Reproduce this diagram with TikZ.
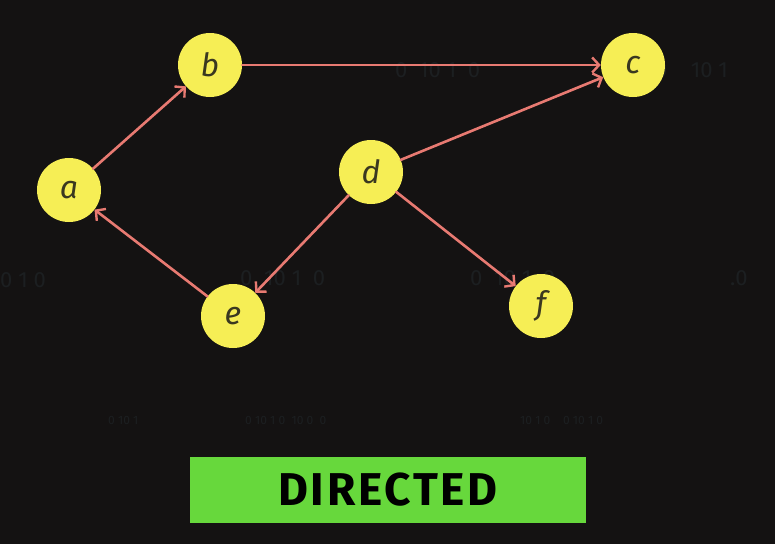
\documentclass[tikz,border=0pt]{standalone}
\usepackage{fontspec}
\setmainfont{Fira Sans}
\usetikzlibrary{arrows.meta}
\definecolor{bgc}{HTML}{141212}
\definecolor{nodey}{HTML}{F6EE55}
\definecolor{edgec}{HTML}{E87A72}
\definecolor{labc}{HTML}{3A3820}
\definecolor{boxg}{HTML}{67D83C}
\definecolor{digc}{HTML}{1C1F21}
\tikzset{
  vert/.style={circle, fill=nodey, minimum size=64pt, inner sep=0pt, text=labc, font=\itshape\fontsize{32}{32}\selectfont},
  edge/.style={draw=edgec, line width=2.6pt, line cap=round, -{Straight Barb[length=7pt,width=15pt,line width=2.4pt]}},
  dig/.style={text=digc, font=\fontsize{22}{22}\selectfont, anchor=west, inner sep=0pt},
  sdig/.style={text=digc, font=\fontsize{12}{12}\selectfont, anchor=west, inner sep=0pt}
}
\begin{document}
\begin{tikzpicture}[x=1pt,y=-1pt]
\fill[bgc] (0,0) rectangle (775,544);
\useasboundingbox (0,0) rectangle (775,544);
% faint background digits
\node[dig] (d1) at (395,70) {0\ \ 10\ 1\ \ 0};
\node[dig] (d2) at (655,70) {0\ \ \ \ 10\ 1};
\node[dig] (d3) at (0,280) {0\ 1\ 0};
\node[dig] (d4) at (240,278) {0\ \ 10\ 1\ \ 0};
\node[dig] (d5) at (470,278) {0\ \ 10\ 1\ \ 0};
\node[dig] (d6) at (730,278) {.0};
\node[sdig] (s1) at (108,420) {0\ 10\ 1};
\node[sdig] (s2) at (245,420) {0\ 10\ 1\ 0\ \ 10\ 0\ \ 0};
\node[sdig] (s3) at (520,420) {10\ 1\ 0\ \ \ \ 0\ 10\ 1\ 0};
% vertices
\node[vert] (a) at (69,190) {a};
\node[vert] (b) at (210,65) {b};
\node[vert] (c) at (633,65) {c};
\node[vert] (d) at (371,172) {d};
\node[vert] (e) at (233,316) {e};
\node[vert] (f) at (541,306) {f};
% edges
\draw[edge] (a) -- (b);
\draw[edge] (b) -- (c);
\draw[edge] (d) -- (c);
\draw[edge] (d) -- (e);
\draw[edge] (e) -- (a);
\draw[edge] (d) -- (f);
% label box
\node[fill=boxg, minimum width=396pt, minimum height=66pt, inner sep=0pt, font=\fontsize{46}{46}\selectfont\bfseries, text=black] (lab) at (388,490) {\addfontfeature{LetterSpace=6}DIRECTED};
\end{tikzpicture}
\end{document}
